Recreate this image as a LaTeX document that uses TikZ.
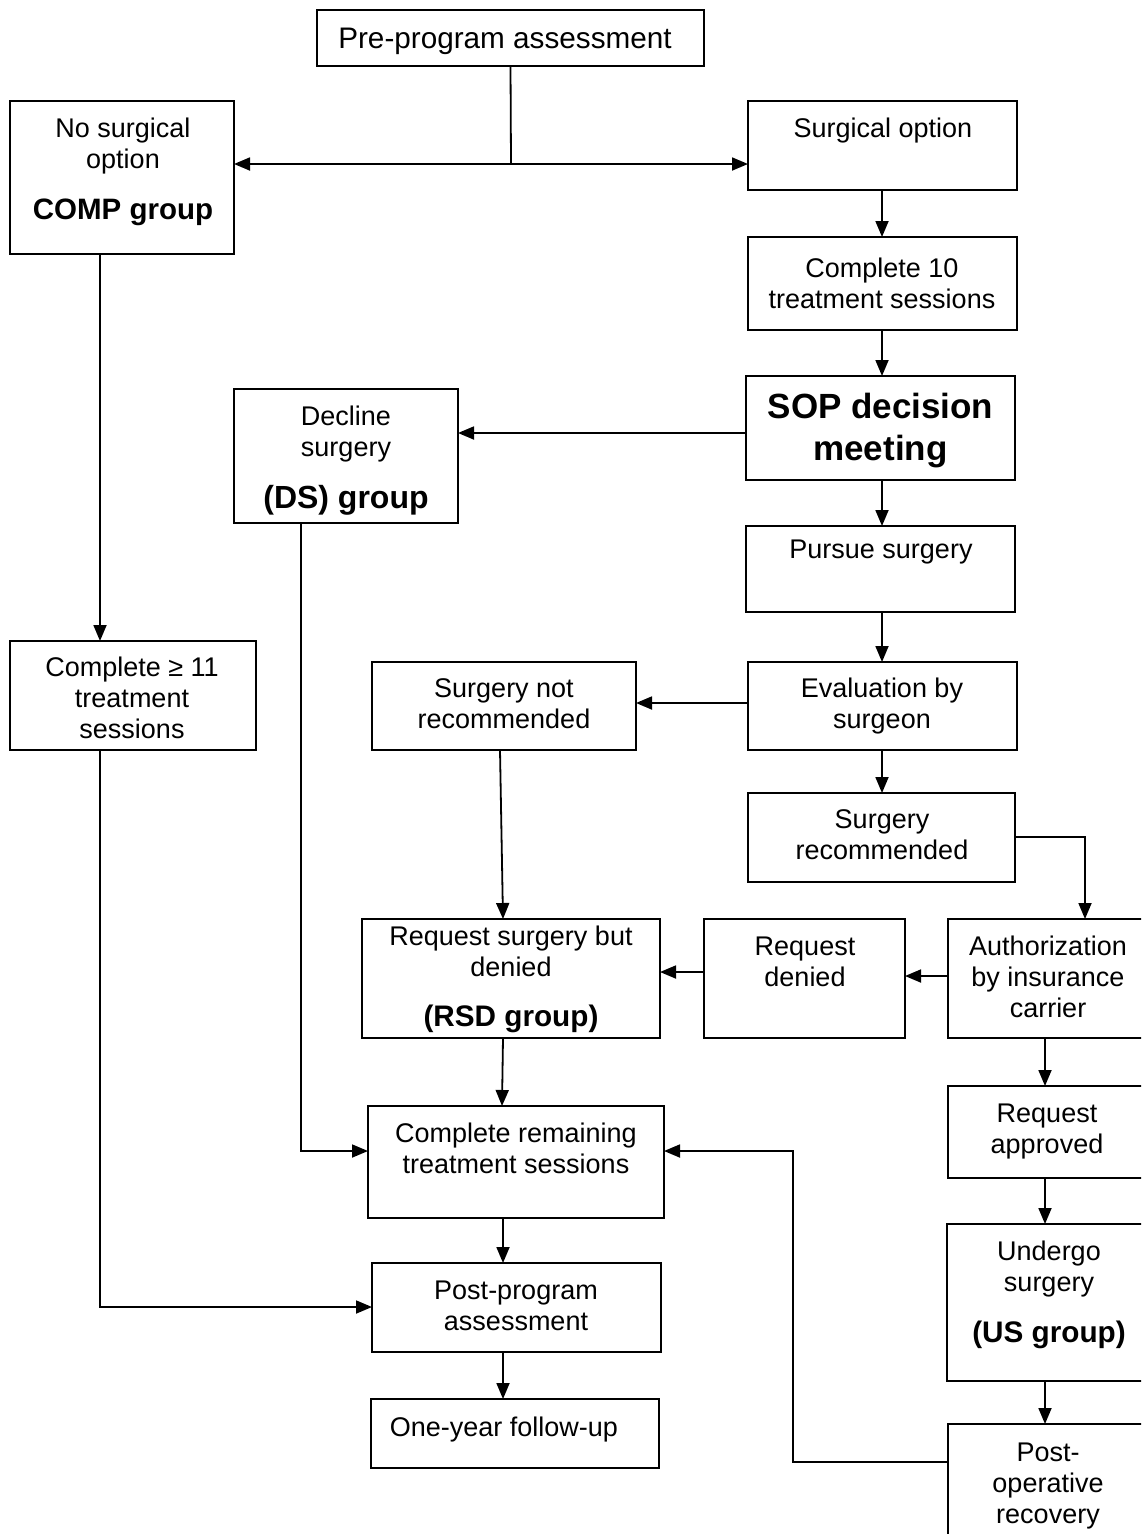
\documentclass[tikz,border=0pt]{standalone}
\usepackage{fontspec}
\setmainfont{Liberation Sans}
\usetikzlibrary{arrows.meta}
\tikzset{
  box/.style={draw, rectangle, line width=1.8pt, inner sep=0pt, outer sep=0pt},
  lbl/.style={align=center, inner sep=0pt, outer sep=0pt, anchor=north, font=\fontsize{27}{31}\selectfont},
  ln/.style={line width=1.8pt},
  arr/.style={line width=1.8pt, -{Triangle[length=16pt,width=13pt]}},
}
\newcommand\bx[5]{\node[box, minimum width={(#4-#2)*1pt}, minimum height={(#5-#3)*1pt}] (#1) at ({(#2+#4)/2},{(#3+#5)/2}) {};}
\newcommand\tx[5][]{\node[lbl,#1] (#2) at (#3,{#4-27}) {\rule{0pt}{27pt}#5};}
\begin{document}
\begin{tikzpicture}[x=1pt,y=-1pt]
\clip (0,0) rectangle (1141,1534);
\fill[white] (0,0) rectangle (1141,1534);
% boxes
\bx{pre}{317}{10}{704}{66}
\bx{comp}{10}{101}{234}{254}
\bx{surg}{748}{101}{1017}{190}
\bx{c10}{748}{237}{1017}{330}
\bx{sop}{746}{376}{1015}{480}
\bx{ds}{234}{389}{458}{523}
\bx{pursue}{746}{526}{1015}{612}
\bx{eval}{748}{662}{1017}{750}
\bx{snr}{372}{662}{636}{750}
\bx{srec}{748}{793}{1015}{882}
\bx{c11}{10}{641}{256}{750}
\bx{rsd}{362}{919}{660}{1038}
\bx{rden}{704}{919}{905}{1038}
\bx{auth}{948}{919}{1150}{1038}
\bx{rapp}{948}{1086}{1150}{1178}
\bx{crem}{368}{1106}{664}{1218}
\bx{us}{947}{1224}{1150}{1381}
\bx{ppa}{372}{1263}{661}{1352}
\bx{oyf}{371}{1399}{659}{1468}
\bx{pop}{948}{1424}{1150}{1560}
% texts
\tx{tpre}{505}{48}{\fontsize{29.7}{31}\selectfont Pre-program assessment}
\tx{tcomp}{123}{137}{No surgical\\option\\[20pt]\fontsize{29.5}{31}\selectfont\bfseries COMP group}
\tx{tsurg}{883}{137}{Surgical option}
\tx{tc10}{882}{277}{Complete 10\\treatment sessions}
\tx[font=\fontsize{35}{42}\selectfont\bfseries]{tsop}{880.5}{418}{SOP decision\\meeting}
\tx{tds}{346}{425}{Decline\\surgery\\[21pt]\fontsize{32}{31}\selectfont\bfseries (DS) group}
\tx{tpur}{881}{558}{Pursue surgery}
\tx{tev}{882}{697}{Evaluation by\\surgeon}
\tx{tsnr}{504}{697}{Surgery not\\recommended}
\tx{tsrec}{882}{828}{Surgery\\recommended}
\tx{tc11}{132}{676}{Complete ≥ 11\\treatment\\sessions}
\tx{trsd}{511}{945}{Request surgery but\\denied\\[19pt]\fontsize{29.7}{31}\selectfont\bfseries (RSD group)}
\tx{trden}{805}{955}{Request\\denied}
\tx{tauth}{1048}{955}{Authorization\\by insurance\\carrier}
\tx{trapp}{1047}{1122}{Request\\approved}
\tx{tcrem}{516}{1142}{Complete remaining\\treatment sessions}
\tx{tus}{1049}{1260}{Undergo\\surgery\\[20pt]\fontsize{29.7}{31}\selectfont\bfseries (US group)}
\tx{tppa}{516}{1299}{Post-program\\assessment}
\tx{toyf}{504}{1436}{One-year follow-up}
\tx{tpop}{1048}{1461}{Post-\\operative\\recovery}
% connectors
\coordinate (j) at (511,164);
\draw[ln] (pre.south) -- (j);
\draw[arr] (j) -- (comp.east |- j);
\draw[arr] (j) -- (surg.west |- j);
\draw[arr] (surg.south -| 882,0) -- (c10.north -| 882,0);
\draw[arr] (c10.south -| 882,0) -- (sop.north -| 882,0);
\draw[arr] (sop.west |- 0,433) -- (ds.east |- 0,433);
\draw[arr] (sop.south -| 882,0) -- (pursue.north -| 882,0);
\draw[arr] (pursue.south -| 882,0) -- (eval.north -| 882,0);
\draw[arr] (eval.west |- 0,703) -- (snr.east |- 0,703);
\draw[arr] (eval.south -| 882,0) -- (srec.north -| 882,0);
\draw[arr] (srec.east |- 0,837) -| (auth.north -| 1085,0);
\draw[arr] (auth.west |- 0,976) -- (rden.east |- 0,976);
\draw[arr] (rden.west |- 0,972) -- (rsd.east |- 0,972);
\draw[arr] (snr.south -| 500,0) -- (rsd.north -| 503,0);
\draw[arr] (comp.south -| 100,0) -- (c11.north -| 100,0);
\draw[arr] (ds.south -| 301,0) |- (crem.west |- 0,1151);
\draw[arr] (rsd.south -| 503,0) -- (crem.north -| 502,0);
\draw[arr] (c11.south -| 100,0) |- (ppa.west |- 0,1307);
\draw[arr] (crem.south -| 503,0) -- (ppa.north -| 503,0);
\draw[arr] (ppa.south -| 503,0) -- (oyf.north -| 503,0);
\draw[arr] (auth.south -| 1045,0) -- (rapp.north -| 1045,0);
\draw[arr] (rapp.south -| 1045,0) -- (us.north -| 1045,0);
\draw[arr] (us.south -| 1045,0) -- (pop.north -| 1045,0);
\draw[arr] (pop.west |- 0,1462) -| (793,1151) -- (crem.east |- 0,1151);
\end{tikzpicture}
\end{document}
